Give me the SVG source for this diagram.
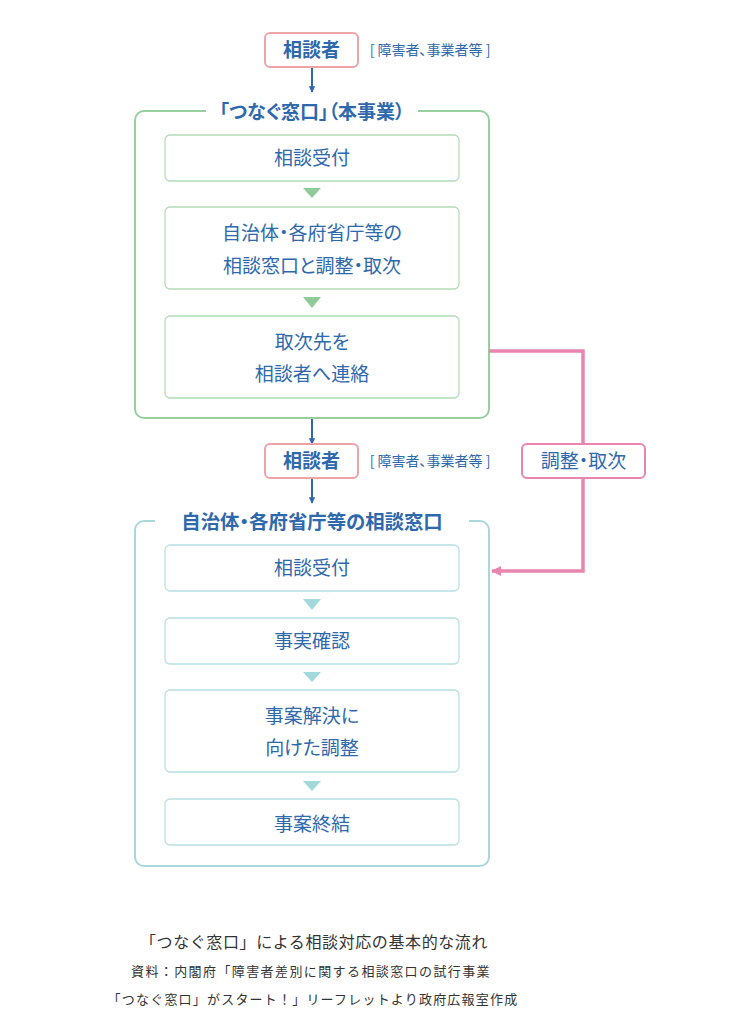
<svg xmlns="http://www.w3.org/2000/svg" width="750" height="1014" viewBox="0 0 750 1014">
<style>
text{font-family:"Noto Sans CJK JP","Noto Sans",sans-serif;fill:#2e68ad;text-anchor:middle;font-feature-settings:"palt"}
.b{font-weight:bold;font-size:19px}
.t{font-size:19px}
.s{font-size:14px}
.pk{fill:#fff;stroke:#eea3a6;stroke-width:2}
.pk2{fill:#fff;stroke:#e985ae;stroke-width:2}
.gi{fill:#fff;stroke:#b3ddb8;stroke-width:1.3}
.bi{fill:#fff;stroke:#b8e0e3;stroke-width:1.3}
.cap{fill:#333;text-anchor:middle}
</style>
<defs>
<marker id="ab" viewBox="0 0 10 10" refX="9" refY="5" markerWidth="3.2" markerHeight="3.2" orient="auto"><path d="M0,0L10,5L0,10z" fill="#2e68ad"/></marker>
<marker id="ap" viewBox="0 0 10 10" refX="9" refY="5" markerWidth="3" markerHeight="3.6" orient="auto"><path d="M0,0L10,5L0,10z" fill="#e985ae"/></marker>
</defs>
<rect width="750" height="1014" fill="#fff"/>

<g id="group-green">
<rect x="135" y="111" width="354" height="307" rx="9" fill="none" stroke="#97cfa0" stroke-width="2"/>
<rect x="206" y="100" width="212" height="22" fill="#fff"/>
<text class="b" x="312" y="119">「つなぐ窓口」（本事業）</text>
</g>
<g id="group-blue">
<rect x="135" y="521" width="354" height="345" rx="9" fill="none" stroke="#a9d8dc" stroke-width="2"/>
<rect x="155" y="510" width="314" height="22" fill="#fff"/>
<text class="b" x="312" y="529" style="font-size:19.4px">自治体・各府省庁等の相談窓口</text>
</g>

<g id="connectors">
<line x1="312" y1="67" x2="312" y2="92" stroke="#2e68ad" stroke-width="2" marker-end="url(#ab)"/>
<line x1="312" y1="419" x2="312" y2="444" stroke="#2e68ad" stroke-width="2" marker-end="url(#ab)"/>
<line x1="312" y1="478" x2="312" y2="503" stroke="#2e68ad" stroke-width="2" marker-end="url(#ab)"/>
<polyline points="489,351 583,351 583,571 492,571" fill="none" stroke="#e985ae" stroke-width="3.5" marker-end="url(#ap)"/>
<path d="M303,188L321,188L312,198z" fill="#8fcb98"/>
<path d="M303,297L321,297L312,308z" fill="#8fcb98"/>
<path d="M303,599L321,599L312,610z" fill="#a3d8dc"/>
<path d="M303,672L321,672L312,682z" fill="#a3d8dc"/>
<path d="M303,781L321,781L312,791z" fill="#a3d8dc"/>
</g>

<g id="n-consult1">
<rect class="pk" x="265" y="33" width="93" height="34" rx="5"/>
<text class="b" x="311.5" y="57">相談者</text>
<text class="s" x="430" y="55">[ 障害者、事業者等 ]</text>
</g>
<g id="n-g1"><rect class="gi" x="165" y="135" width="294" height="46" rx="5"/><text class="t" x="312" y="165">相談受付</text></g>
<g id="n-g2"><rect class="gi" x="165" y="207" width="294" height="82" rx="5"/><text class="t" x="312" y="240">自治体・各府省庁等の</text><text class="t" x="312" y="273">相談窓口と調整・取次</text></g>
<g id="n-g3"><rect class="gi" x="165" y="316" width="294" height="82" rx="5"/><text class="t" x="312" y="349">取次先を</text><text class="t" x="312" y="381">相談者へ連絡</text></g>

<g id="n-consult2">
<rect class="pk" x="265" y="444" width="93" height="34" rx="5"/>
<text class="b" x="311.5" y="468">相談者</text>
<text class="s" x="430" y="466">[ 障害者、事業者等 ]</text>
</g>
<g id="n-chosei">
<rect class="pk2" x="522" y="444" width="123" height="34" rx="5"/>
<text class="t" x="583.5" y="468">調整・取次</text>
</g>

<g id="n-b1"><rect class="bi" x="165" y="545" width="294" height="46" rx="5"/><text class="t" x="312" y="575">相談受付</text></g>
<g id="n-b2"><rect class="bi" x="165" y="618" width="294" height="46" rx="5"/><text class="t" x="312" y="648">事実確認</text></g>
<g id="n-b3"><rect class="bi" x="165" y="690" width="294" height="82" rx="5"/><text class="t" x="312" y="723">事案解決に</text><text class="t" x="312" y="755">向けた調整</text></g>
<g id="n-b4"><rect class="bi" x="165" y="799" width="294" height="46" rx="5"/><text class="t" x="312" y="831">事案終結</text></g>

<g id="caption">
<text class="cap" x="314" y="948" font-size="16" style="letter-spacing:0.6px;font-feature-settings:normal">「つなぐ窓口」による相談対応の基本的な流れ</text>
<text class="cap" x="311" y="976" font-size="13" style="letter-spacing:1.4px;font-feature-settings:normal">資料：内閣府「障害者差別に関する相談窓口の試行事業</text>
<text class="cap" x="313" y="1004" font-size="13" style="letter-spacing:1.2px;font-feature-settings:normal">「つなぐ窓口」がスタート！」リーフレットより政府広報室作成</text>
</g>
</svg>
